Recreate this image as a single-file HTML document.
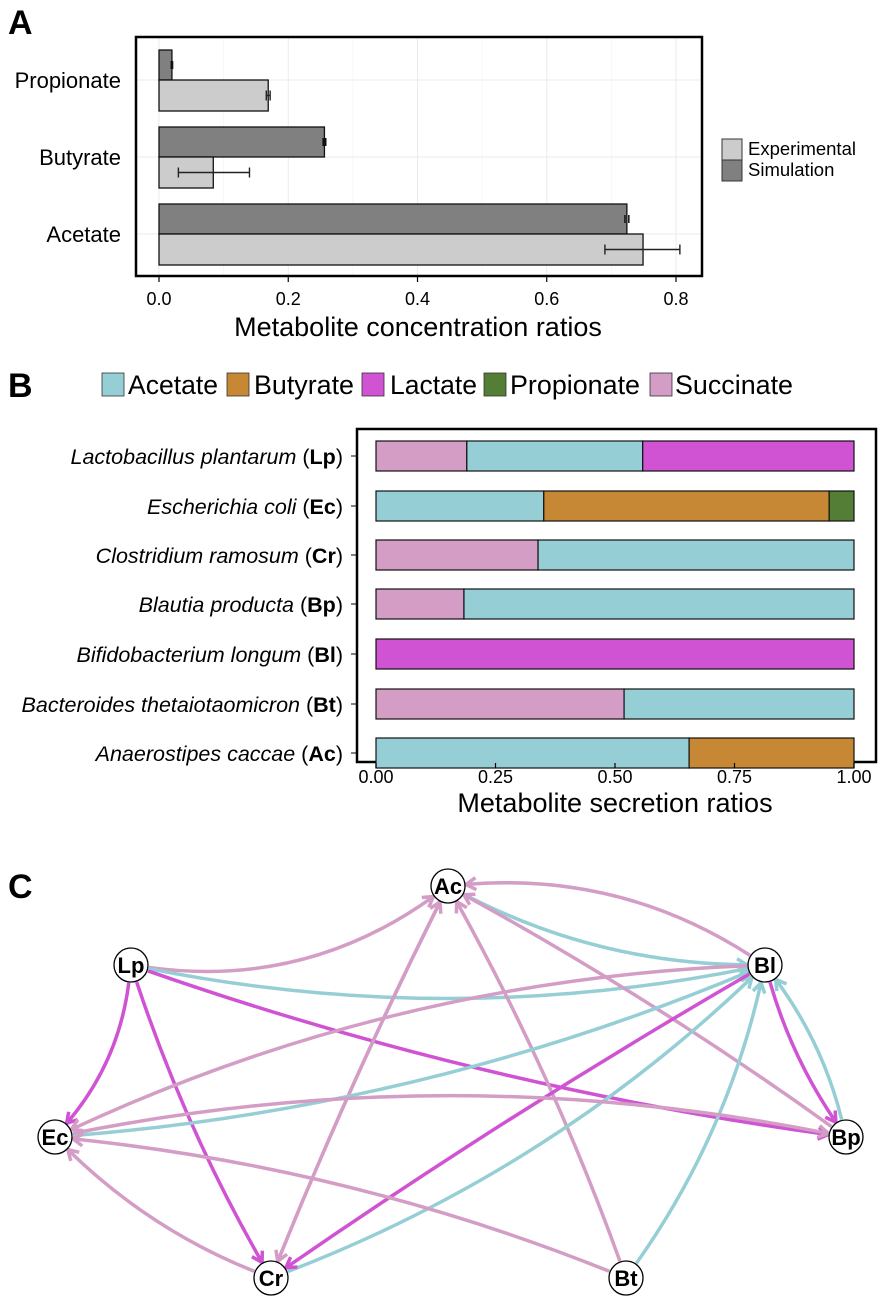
<!DOCTYPE html>
<html><head><meta charset="utf-8"><style>
body{margin:0;background:#fff;font-family:"Liberation Sans",Arial,sans-serif}
svg{display:block}
</style></head><body>
<svg id="fig" width="893" height="1309" viewBox="0 0 893 1309" xmlns="http://www.w3.org/2000/svg" font-family="Liberation Sans, Arial, sans-serif"></svg>
<script>
// Panel A data
const aCats=["Propionate","Butyrate","Acetate"];
const aSim=[0.02,0.256,0.724];
const aSimErr=[0.001,0.002,0.003];
const aExp=[0.169,0.084,0.749];
const aExpLo=[0.166,0.03,0.69];
const aExpHi=[0.172,0.14,0.806];
const aTicks=[0,0.2,0.4,0.6,0.8];
const aTickLabels=["0.0","0.2","0.4","0.6","0.8"];
// Panel B data
const bSpecies=[["Lactobacillus plantarum","Lp"],["Escherichia coli","Ec"],["Clostridium ramosum","Cr"],["Blautia producta","Bp"],["Bifidobacterium longum","Bl"],["Bacteroides thetaiotaomicron","Bt"],["Anaerostipes caccae","Ac"]];
const bMetabolites=["Acetate","Butyrate","Lactate","Propionate","Succinate"];
const bColors={Acetate:"#96CED6",Butyrate:"#C68835",Lactate:"#CF53D3",Propionate:"#547E35",Succinate:"#D39DC5"};
const bOrder=["Succinate","Acetate","Butyrate","Lactate","Propionate"];
const bSuccinate=[0.19,0,0.339,0.184,0,0.519,0];
const bAcetate=[0.368,0.351,0.661,0.816,0,0.481,0.655];
const bButyrate=[0,0.597,0,0,0,0,0.345];
const bLactate=[0.442,0,0,0,1,0,0];
const bPropionate=[0,0.052,0,0,0,0,0];
const bTicks=[0,0.25,0.5,0.75,1];
const bTickLabels=["0.00","0.25","0.50","0.75","1.00"];
// Panel C data
const cNodes=["Ac","Lp","Bl","Ec","Bp","Cr","Bt"];
const cEdges=[["Lp","Ac","Succinate",0.2],["Lp","Bl","Acetate",0.1],["Lp","Ec","Lactate",-0.15],["Lp","Cr","Lactate",0.05],["Lp","Bp","Lactate",0.05],
["Bl","Ac","Succinate",0.17],["Ac","Bl","Acetate",0.12],["Bp","Ac","Succinate",0.03],["Ac","Cr","Succinate",0.02],["Cr","Ac","Succinate",-0.02],["Bt","Ac","Succinate",0.04],
["Bl","Ec","Succinate",0.1],["Ec","Bl","Acetate",0.08],["Bl","Bp","Lactate",0.08],["Bp","Bl","Acetate",0.1],["Bt","Bl","Acetate",0.1],["Cr","Bl","Acetate",0.1],["Bl","Cr","Lactate",0.02],
["Ec","Bp","Succinate",-0.1],["Bt","Ec","Succinate",0.07],["Cr","Ec","Succinate",-0.1]];
const cPos={Ac:[448,886],Lp:[131,965],Bl:[765,965],Ec:[55,1137],Bp:[846,1137],Cr:[271,1278],Bt:[626,1278]};

const svg=document.getElementById('fig');
const NS="http://www.w3.org/2000/svg";
function mk(tag,attrs,parent,text){const e=document.createElementNS(NS,tag);for(const k in attrs)e.setAttribute(k,attrs[k]);if(text!==undefined)e.textContent=text;(parent||svg).appendChild(e);return e;}

// ---------- Panel A ----------
const gA=mk('g',{});


const ax=v=>159+v*646.25;
const aCy=[80,157,234];
let t=mk('text',{x:8,y:34,'font-size':34,'font-weight':'bold'},gA,'A');

mk('rect',{x:136,y:37,width:566,height:239,fill:'#fff'},gA);
aTicks.forEach(v=>mk('line',{x1:ax(v),x2:ax(v),y1:37,y2:276,stroke:'#ebebeb','stroke-width':1},gA));
aTicks.slice(0,-1).forEach((v,i)=>mk('line',{x1:ax(v+0.1),x2:ax(v+0.1),y1:37,y2:276,stroke:'#f4f4f4','stroke-width':0.6},gA));
aCy.forEach(y=>mk('line',{x1:136,x2:702,y1:y,y2:y,stroke:'#ebebeb'},gA));
aCats.forEach((c,i)=>{
  const y=aCy[i];
  let r=mk('rect',{x:ax(0),y:y-30,width:ax(aSim[i])-ax(0),height:30,fill:'#808080',stroke:'#111','stroke-width':1.3},gA);
  
  r=mk('rect',{x:ax(0),y:y,width:ax(aExp[i])-ax(0),height:31,fill:'#cccccc',stroke:'#111','stroke-width':1.3},gA);
  
  const ey=y+15.5;
  mk('path',{d:`M${ax(aExpLo[i])},${ey}H${ax(aExpHi[i])}M${ax(aExpLo[i])},${ey-5}v10M${ax(aExpHi[i])},${ey-5}v10`,stroke:'#222','stroke-width':1.4,fill:'none'},gA);
  const sy=y-15;
  mk('path',{d:`M${ax(aSim[i]-aSimErr[i])},${sy-4}v8M${ax(aSim[i]+aSimErr[i])},${sy-4}v8`,stroke:'#111','stroke-width':1.5},gA);
  const l=mk('text',{x:121,y:y+8,'font-size':22,'text-anchor':'end'},gA,c);
  
});
mk('rect',{x:136,y:37,width:566,height:239,fill:'none',stroke:'#000','stroke-width':2.5},gA);
aTicks.forEach((v,i)=>{mk('line',{x1:ax(v),x2:ax(v),y1:277,y2:282,stroke:'#000','stroke-width':1.2},gA);
  const l=mk('text',{x:ax(v),y:305,'font-size':18,'text-anchor':'middle'},gA,aTickLabels[i]);
  });
t=mk('text',{x:418,y:336,'font-size':27,'text-anchor':'middle'},gA,'Metabolite concentration ratios');

[["Experimental","#cccccc",139],["Simulation","#808080",160]].forEach(([n,c,y])=>{
  const g=mk('g',{},gA);
  mk('rect',{x:722,y:y,width:20,height:21,fill:c,stroke:'#333','stroke-width':1},g);
  mk('text',{x:748,y:y+16,'font-size':18.5},g,n);
});

// ---------- Panel B ----------
const gB=mk('g',{});


const bx=v=>376+v*478;
const bRowY=[456,506,555,604,654,704,753];
t=mk('text',{x:8,y:397,'font-size':34,'font-weight':'bold'},gB,'B');

const legX=[102,227,362,484,650];
const legTX=[128,254,390,510,675];
const legW=[90,100,87,130,118];
bMetabolites.forEach((m,i)=>{
  const g=mk('g',{},gB);
  mk('rect',{x:legX[i],y:373,width:22,height:23,fill:bColors[m],stroke:'#333','stroke-width':0.8},g);
  mk('text',{x:legTX[i],y:394,'font-size':27,textLength:legW[i],lengthAdjust:'spacingAndGlyphs'},g,m);
});
mk('rect',{x:357,y:429,width:519,height:333,fill:'#fff',stroke:'#000','stroke-width':2.5},gB);
const bVals={Succinate:bSuccinate,Acetate:bAcetate,Butyrate:bButyrate,Lactate:bLactate,Propionate:bPropionate};
bSpecies.forEach((s,i)=>{
  const y=bRowY[i];let cum=0;
  bOrder.forEach(m=>{const v=bVals[m][i];if(v<=0)return;
    const r=mk('rect',{x:bx(cum),y:y-15,width:bx(cum+v)-bx(cum),height:30,fill:bColors[m],stroke:'#111','stroke-width':1.2},gB);
    
    cum+=v;});
  const l=mk('text',{x:343,y:y+8,'font-size':21.5,'text-anchor':'end'},gB);
  
  mk('tspan',{'font-style':'italic'},l,s[0]);mk('tspan',{},l,' (');mk('tspan',{'font-weight':'bold'},l,s[1]);mk('tspan',{},l,')');
  mk('line',{x1:351,x2:357,y1:y,y2:y,stroke:'#000'},gB);
});
bTicks.forEach((v,i)=>{mk('line',{x1:bx(v),x2:bx(v),y1:763,y2:768,stroke:'#000','stroke-width':1.2},gB);
  const l=mk('text',{x:bx(v),y:783,'font-size':18,'text-anchor':'middle'},gB,bTickLabels[i]);
  });
t=mk('text',{x:615,y:812,'font-size':27,'text-anchor':'middle'},gB,'Metabolite secretion ratios');


// ---------- Panel C ----------
const gC=mk('g',{});


t=mk('text',{x:8,y:898,'font-size':34,'font-weight':'bold'},gC,'C');

const R=18;
cEdges.forEach(([s,d,m,k])=>{
  const [x1,y1]=cPos[s],[x2,y2]=cPos[d];
  const dx=x2-x1,dy=y2-y1,L=Math.hypot(dx,dy);
  const nx=-dy/L,ny=dx/L;
  const cx=(x1+x2)/2+nx*k*L,cy=(y1+y2)/2+ny*k*L;
  const tx=x2-cx,ty=y2-cy,tl=Math.hypot(tx,ty);
  const ex=x2-tx/tl*R,ey=y2-ty/tl*R;
  const sx0=cx-x1,sy0=cy-y1,sl=Math.hypot(sx0,sy0);
  const sx=x1+sx0/sl*R,sy=y1+sy0/sl*R;
  const w=3.5;
  const p=mk('path',{d:`M${sx},${sy}Q${cx},${cy} ${ex},${ey}`,stroke:bColors[m],'stroke-width':w,fill:'none'},gC);
  
  const ux=tx/tl,uy=ty/tl,a=10;
  mk('path',{d:`M${ex-ux*a-uy*a*0.6},${ey-uy*a+ux*a*0.6}L${ex},${ey}L${ex-ux*a+uy*a*0.6},${ey-uy*a-ux*a*0.6}`,stroke:bColors[m],'stroke-width':w,fill:'none'},gC);
});
cNodes.forEach(n=>{
  const [x,y]=cPos[n];
  const g=mk('g',{},gC);
  mk('circle',{cx:x,cy:y,r:17,fill:'#fff',stroke:'#000','stroke-width':1.3},g);
  mk('text',{x:x,y:y+8,'font-size':22,'font-weight':'bold','text-anchor':'middle'},g,n);
});
</script>
</body></html>
